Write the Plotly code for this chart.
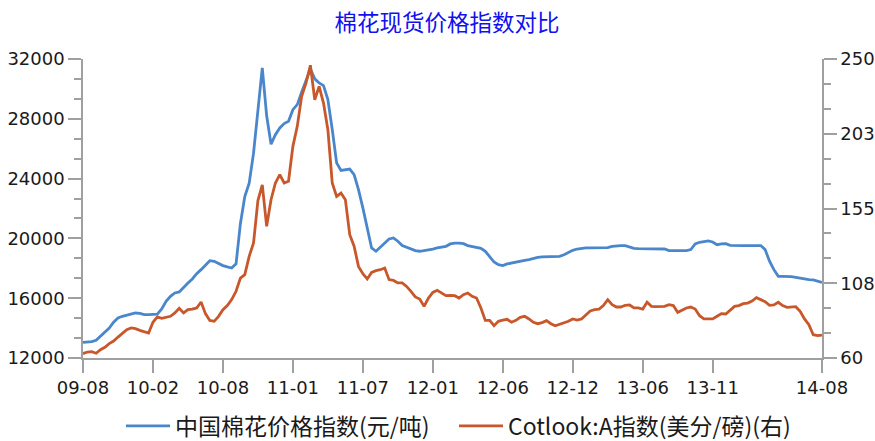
import plotly.graph_objects as go

# ---- data ----
tick_labels = ['09-08', '10-02', '10-08', '11-01', '11-07', '12-01',
               '12-06', '12-12', '13-06', '13-11', '14-08']
tick_index = [0, 16, 32, 48, 64, 80, 96, 112, 128, 144, 169]

china_index = [
    13050, 13050, 13090, 13180, 13450, 13720, 14000, 14390, 14680, 14790,
    14850, 14900, 15010, 14990, 14900, 14900, 14900, 14940, 15280, 15790,
    16130, 16350, 16420, 16750, 17020, 17290, 17640, 17910, 18180, 18510,
    18470, 18310, 18180, 18090, 18020, 18300, 21000, 22800, 23700, 25700,
    28500, 31400, 28200, 26300, 26940, 27390, 27680, 27830, 28610, 28950,
    29770, 30620, 31330, 30670, 30400, 30220, 29280, 27280, 25050, 24550,
    24600, 24640, 24270, 23260, 22040, 20590, 19360, 19140, 19430, 19740,
    19960, 20030, 19810, 19520, 19400, 19290, 19180, 19140, 19180, 19250,
    19290, 19360, 19430, 19470, 19630, 19690, 19690, 19650, 19520, 19470,
    19430, 19340, 19140, 18800, 18420, 18240, 18180, 18290, 18360, 18420,
    18490, 18530, 18580, 18670, 18730, 18760, 18760, 18760, 18760, 18800,
    18910, 19070, 19200, 19290, 19340, 19360, 19360, 19360, 19360, 19360,
    19380, 19470, 19520, 19520, 19520, 19430, 19340, 19310, 19310, 19310,
    19310, 19310, 19310, 19290, 19180, 19180, 19180, 19180, 19180, 19250,
    19630, 19740, 19810, 19830, 19760, 19580, 19630, 19650, 19540, 19520,
    19520, 19520, 19520, 19520, 19520, 19520, 19250, 18470, 17910, 17460,
    17460, 17460, 17440, 17400, 17330, 17290, 17240, 17220, 17150, 17060,
]

cotlook_a = [
    62.8, 63.8, 64.0, 63.0, 65.3, 66.8, 69.1, 70.8, 73.3, 75.5,
    78.0, 79.1, 78.6, 77.6, 76.7, 75.9, 82.7, 86.1, 85.2, 86.1,
    86.5, 88.6, 91.6, 88.6, 90.7, 91.1, 91.8, 95.6, 88.2, 83.9,
    83.3, 86.5, 90.7, 93.3, 97.1, 102.4, 110.8, 113.0, 124.6, 133.1,
    160.0, 170.0, 143.7, 160.6, 171.2, 176.5, 171.2, 172.3, 194.5, 207.2,
    226.3, 234.7, 246.0, 224.1, 232.6, 222.0, 205.1, 171.2, 162.7, 164.8,
    160.6, 138.4, 131.0, 118.2, 113.6, 110.2, 114.4, 115.5, 116.1, 117.2,
    109.8, 109.3, 107.7, 107.7, 105.5, 102.4, 98.8, 97.5, 92.8, 98.1,
    101.7, 103.0, 101.3, 99.6, 99.8, 99.6, 98.1, 100.2, 101.3, 99.2,
    98.1, 91.8, 83.9, 83.9, 80.5, 83.3, 84.1, 84.6, 82.7, 83.9,
    85.8, 86.5, 84.8, 82.7, 81.8, 82.5, 83.7, 81.8, 80.5, 81.4,
    82.2, 83.3, 84.8, 84.1, 84.8, 87.3, 89.9, 90.7, 91.1, 93.3,
    97.1, 93.9, 92.4, 92.4, 93.5, 93.7, 91.8, 91.8, 91.1, 95.4,
    92.8, 92.6, 92.8, 92.8, 93.9, 93.3, 89.0, 90.3, 91.8, 92.4,
    91.1, 86.9, 84.8, 84.8, 84.8, 86.5, 88.2, 88.0, 90.3, 92.8,
    93.3, 94.5, 94.9, 96.2, 98.3, 97.1, 95.8, 93.5, 93.7, 95.4,
    93.3, 92.2, 92.4, 92.6, 89.7, 84.8, 81.2, 74.8, 74.2, 74.6,
]

left_ticks = [12000, 16000, 20000, 24000, 28000, 32000]
right_ticks = [60, 107.5, 155, 202.5, 250]
right_tick_text = ['60', '108', '155', '203', '250']

title_text = '棉花现货价格指数对比'
name_china = '中国棉花价格指数(元/吨)'
name_cotlook = 'Cotlook:A指数(美分/磅)(右)'

# ---- figure ----
x_idx = list(range(len(china_index)))
BLUE = '#4a86cb'
ORANGE = '#c8582c'
AXIS = '#a0a0a0'
TICKFONT = dict(family='DejaVu Sans', size=18, color='#1a1a1a')

fig = go.Figure()
fig.add_trace(go.Scatter(x=x_idx, y=china_index, mode='lines', name=name_china,
                         line=dict(color=BLUE, width=2.8), legend='legend'))
fig.add_trace(go.Scatter(x=x_idx, y=cotlook_a, mode='lines', name=name_cotlook,
                         line=dict(color=ORANGE, width=2.8), yaxis='y2', legend='legend2'))

minor_left = [left_ticks[0] + k * (left_ticks[1] - left_ticks[0]) / 3
              for k in range(3 * (len(left_ticks) - 1) + 1)]
minor_right = [right_ticks[0] + k * (right_ticks[1] - right_ticks[0]) / 3
               for k in range(3 * (len(right_ticks) - 1) + 1)]

legend_font = dict(family='Noto Sans CJK SC', size=23, color='#1a1a1a')

fig.update_layout(
    width=875, height=441,
    paper_bgcolor='white', plot_bgcolor='white',
    margin=dict(l=83, r=53, t=59, b=83, pad=0, autoexpand=False),
    title=dict(text=title_text, x=447 / 875, xanchor='center', xref='container',
               y=1 - 23 / 441, yanchor='middle', yref='container',
               font=dict(family='Noto Sans CJK SC', size=22.5, color='#1010f0')),
    xaxis=dict(range=[0, len(china_index) - 1], tickmode='array', tickvals=tick_index,
               ticktext=tick_labels, showgrid=False, zeroline=False,
               showline=True, linecolor=AXIS, linewidth=1.5,
               ticks='outside', ticklen=13, tickcolor=AXIS, tickwidth=1.5,
               tickfont=TICKFONT),
    yaxis=dict(range=[12000, 32000], tickmode='array', tickvals=left_ticks,
               ticktext=[str(v) for v in left_ticks], showgrid=False, zeroline=False,
               showline=True, linecolor=AXIS, linewidth=1.5,
               ticks='outside', ticklen=13, tickcolor=AXIS, tickwidth=1.5,
               tickfont=TICKFONT,
               minor=dict(tickmode='array', tickvals=minor_left, ticks='outside',
                          ticklen=7, tickcolor=AXIS, tickwidth=1.5, showgrid=False)),
    yaxis2=dict(range=[60, 250], overlaying='y', side='right', tickmode='array',
                tickvals=right_ticks, ticktext=right_tick_text, showgrid=False,
                zeroline=False, showline=True, linecolor=AXIS, linewidth=1.5,
                ticks='outside', ticklen=13, tickcolor=AXIS, tickwidth=1.5,
                tickfont=TICKFONT,
                minor=dict(tickmode='array', tickvals=minor_right, ticks='outside',
                           ticklen=7, tickcolor=AXIS, tickwidth=1.5, showgrid=False)),
    showlegend=True,
    legend=dict(orientation='h', xref='container', yref='container',
                x=121 / 875, xanchor='left', y=1 - 426 / 441, yanchor='middle',
                itemwidth=44, font=legend_font, bgcolor='rgba(0,0,0,0)', borderwidth=0),
    legend2=dict(orientation='h', xref='container', yref='container',
                 x=454 / 875, xanchor='left', y=1 - 426 / 441, yanchor='middle',
                 itemwidth=44, font=legend_font, bgcolor='rgba(0,0,0,0)', borderwidth=0),
)

fig.write_html('out.html')
